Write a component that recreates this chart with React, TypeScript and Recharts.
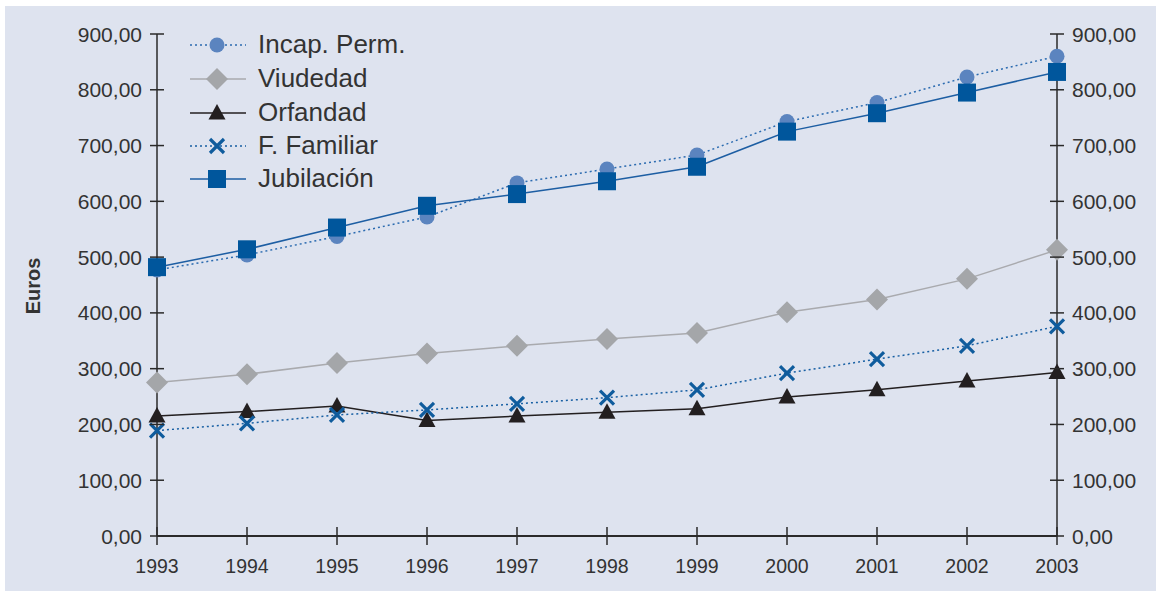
import React from "react";
import { Label, Line, LineChart, XAxis, YAxis } from "recharts";

const years = ["1993", "1994", "1995", "1996", "1997", "1998", "1999", "2000", "2001", "2002", "2003"];
const incapPerm = [477, 504, 537, 572, 633, 658, 683, 743, 777, 823, 860];
const viudedad = [275, 290, 310, 327, 341, 353, 364, 401, 424, 461, 513];
const orfandad = [215, 223, 233, 207, 215, 222, 228, 249, 262, 278, 293];
const familiar = [189, 202, 217, 226, 237, 248, 262, 292, 317, 341, 376];
const jubilacion = [482, 514, 553, 592, 613, 636, 662, 725, 758, 795, 832];
const yTicks = [0, 100, 200, 300, 400, 500, 600, 700, 800, 900];

const data = years.map((year, i) => ({
  year,
  incap: incapPerm[i],
  viudedad: viudedad[i],
  orfandad: orfandad[i],
  familiar: familiar[i],
  jubilacion: jubilacion[i],
}));

const font = '"Liberation Sans", Arial, Helvetica, sans-serif';
const textColor = "#333333";
const axisColor = "#2a2a2a";

type Shape = "circle" | "diamond" | "triangle" | "cross" | "square";

const series: { key: string; name: string; line: string; fill: string; dashed: boolean; shape: Shape; axis: string }[] = [
  { key: "incap", name: "Incap. Perm.", line: "#2b6bb0", fill: "#5b84bf", dashed: true, shape: "circle", axis: "left" },
  { key: "viudedad", name: "Viudedad", line: "#a9aaae", fill: "#a4a6a9", dashed: false, shape: "diamond", axis: "left" },
  { key: "orfandad", name: "Orfandad", line: "#231f20", fill: "#231f20", dashed: false, shape: "triangle", axis: "left" },
  { key: "familiar", name: "F. Familiar", line: "#175fa3", fill: "#0f5c9d", dashed: true, shape: "cross", axis: "left" },
  { key: "jubilacion", name: "Jubilación", line: "#1d5ea3", fill: "#00569c", dashed: false, shape: "square", axis: "right" },
];

function Marker({ shape, cx, cy, fill }: { shape: Shape; cx: number; cy: number; fill: string }) {
  if (shape === "circle") return <circle cx={cx} cy={cy} r={7.5} fill={fill} />;
  if (shape === "square") return <rect x={cx - 9} y={cy - 9} width={18} height={18} fill={fill} />;
  if (shape === "diamond")
    return <polygon points={`${cx},${cy - 11} ${cx + 11},${cy} ${cx},${cy + 11} ${cx - 11},${cy}`} fill={fill} />;
  if (shape === "triangle")
    return <polygon points={`${cx},${cy - 9} ${cx + 8.5},${cy + 6.5} ${cx - 8.5},${cy + 6.5}`} fill={fill} />;
  return (
    <g stroke={fill} strokeWidth={3.2}>
      <line x1={cx - 7} y1={cy - 7} x2={cx + 7} y2={cy + 7} />
      <line x1={cx - 7} y1={cy + 7} x2={cx + 7} y2={cy - 7} />
    </g>
  );
}

const fmt = (v: number) => v.toFixed(2).replace(".", ",");

function LeftTick(props: any) {
  const { x, y, payload } = props;
  const ax = x + 14;
  return (
    <g>
      <line x1={ax - 7} x2={ax + 7} y1={y} y2={y} stroke={axisColor} strokeWidth={1.5} />
      <text x={ax - 15} y={y} dy="0.36em" textAnchor="end" fontSize={21} fontFamily={font} fill={textColor}>
        {fmt(payload.value)}
      </text>
    </g>
  );
}

function RightTick(props: any) {
  const { x, y, payload } = props;
  const ax = x - 14;
  return (
    <g>
      <line x1={ax - 7} x2={ax + 7} y1={y} y2={y} stroke={axisColor} strokeWidth={1.5} />
      <text x={ax + 15} y={y} dy="0.36em" textAnchor="start" fontSize={21} fontFamily={font} fill={textColor}>
        {fmt(payload.value)}
      </text>
    </g>
  );
}

function BottomTick(props: any) {
  const { x, y, payload } = props;
  const ay = y - 14;
  return (
    <g>
      <line x1={x} x2={x} y1={ay - 9} y2={ay + 9} stroke={axisColor} strokeWidth={1.5} />
      <text x={x} y={ay + 23} dy="0.71em" textAnchor="middle" fontSize={19.5} fontFamily={font} fill={textColor}>
        {payload.value}
      </text>
    </g>
  );
}

function LegendBox() {
  return (
    <div style={{ fontFamily: font, fontSize: 26, color: textColor }}>
      {series.map((s, i) => (
        <div key={s.key} style={{ display: "flex", alignItems: "center", height: i === 1 ? 35 : 33 }}>
          <svg width={68} height={30} style={{ display: "block" }}>
            <line
              x1={0}
              x2={56}
              y1={15}
              y2={15}
              stroke={s.line}
              strokeWidth={1.5}
              strokeDasharray={s.dashed ? "2 3" : undefined}
            />
            <Marker shape={s.shape} cx={27} cy={15} fill={s.fill} />
          </svg>
          <span style={{ lineHeight: "33px" }}>{s.name}</span>
        </div>
      ))}
    </div>
  );
}

export default function App() {
  return (
    <div style={{ position: "absolute", left: 0, top: 0, width: 1156, height: 591, background: "#ffffff" }}>
      <div style={{ position: "absolute", left: 5, top: 6, right: 0, bottom: 0, background: "#dee3ef" }} />
      <div style={{ position: "absolute", left: 0, top: 0 }}>
        <LineChart width={1156} height={591} data={data} margin={{ top: 34, right: 0, bottom: 0, left: 0 }}>
          <XAxis
            dataKey="year"
            axisLine={{ stroke: axisColor, strokeWidth: 2 }}
            tickLine={false}
            tickSize={0}
            tickMargin={14}
            tick={<BottomTick />}
            interval={0}
            height={55}
          />
          <YAxis
            yAxisId="left"
            domain={[0, 900]}
            ticks={yTicks}
            width={157}
            axisLine={{ stroke: axisColor, strokeWidth: 1.5 }}
            tickLine={false}
            tickSize={0}
            tickMargin={14}
            tick={<LeftTick />}
            interval={0}
          >
            <Label
              content={() => (
                <text
                  x={33}
                  y={286}
                  transform="rotate(-90 33 286)"
                  textAnchor="middle"
                  dominantBaseline="central"
                  fontSize={20}
                  fontWeight="bold"
                  fontFamily={font}
                  fill={textColor}
                >
                  Euros
                </text>
              )}
            />
          </YAxis>
          <YAxis
            yAxisId="right"
            orientation="right"
            domain={[0, 900]}
            ticks={yTicks}
            width={99}
            axisLine={{ stroke: axisColor, strokeWidth: 1.5 }}
            tickLine={false}
            tickSize={0}
            tickMargin={14}
            tick={<RightTick />}
            interval={0}
          />
          {series.map((s) => (
            <Line
              key={s.key}
              yAxisId={s.axis}
              dataKey={s.key}
              name={s.name}
              type="linear"
              stroke={s.line}
              strokeWidth={1.5}
              strokeDasharray={s.dashed ? "2 3" : undefined}
              dot={(p: any) => <Marker key={`${s.key}-${p.index}`} shape={s.shape} cx={p.cx} cy={p.cy} fill={s.fill} />}
              activeDot={false}
              isAnimationActive={false}
            />
          ))}
        </LineChart>
      </div>
      <div style={{ position: "absolute", left: 190, top: 28 }}>
        <LegendBox />
      </div>
    </div>
  );
}
